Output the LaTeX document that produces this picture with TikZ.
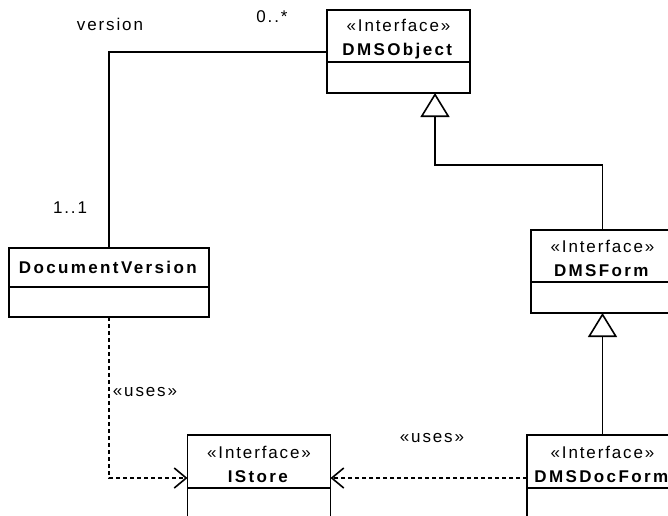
\documentclass[tikz,border=0pt]{standalone}
\usepackage{fontspec}
\setmainfont{Liberation Sans}[LetterSpace=11,BoldFeatures={LetterSpace=14}]
\usetikzlibrary{arrows.meta,positioning}
\newcommand{\stereo}{\rule{0pt}{18pt}«Interface»}
\tikzset{
  classhd/.style={draw, line width=1.8pt, align=center, inner sep=0pt, outer sep=0pt, minimum width=143pt, minimum height=52pt, font=\fontsize{17}{24}\selectfont},
  classbd/.style={draw, line width=1.8pt, inner sep=0pt, outer sep=0pt, minimum width=143pt, minimum height=31pt},
  lbl/.style={inner sep=0pt, font=\fontsize{17}{20}\selectfont},
  assoc/.style={line width=1.6pt},
  inherit/.style={line width=1.6pt, -{Triangle[open, length=24pt, width=29pt, line width=1.6pt]}},
  uses/.style={line width=1.6pt, dash pattern=on 4pt off 3pt, -{Straight Barb[length=12pt, width=20pt, line width=1.6pt]}}
}

\begin{document}
\begin{tikzpicture}[x=1pt, y=-1pt]
	%%%%% START %%%%%
	\clip (0,0) rectangle (668,515);
	\fill[white] (0,0) rectangle (668,515);

	% classes
	\node[classhd] (objhd) at (398.5,36) {\stereo\\ \textbf{DMSObject}};
	\node[classbd, below=0pt of objhd] (objbd) {};

	\node[classhd, minimum width=200pt, minimum height=39pt] (verhd) at (109,267.5) {\textbf{DocumentVersion}};
	\node[classbd, minimum width=200pt, minimum height=30pt, below=0pt of verhd] (verbd) {};

	\node[classhd] (formhd) at (602.5,256) {\stereo\\ \textbf{DMSForm}};
	\node[classbd, below=0pt of formhd] (formbd) {};

	\node[classhd, minimum height=53pt] (storehd) at (259,461.5) {\stereo\\ \textbf{IStore}};
	\node[classbd, minimum height=40pt, below=0pt of storehd] (storebd) {};

	\node[classhd, minimum width=151pt, minimum height=53pt] (dochd) at (602.5,461.5) {\stereo\\ \textbf{DMSDocForm}};
	\node[classbd, minimum width=151pt, minimum height=40pt, below=0pt of dochd] (docbd) {};

	% association
	\draw[assoc] ([yshift=-16pt]objhd.west) -| (verhd.north);
	\node[lbl] (rolever) at (110,24) {version};
	\node[lbl] (multobj) at (272,17) {0..*};
	\node[lbl] (multver) at (70,208) {1..1};

	% generalisations
	\draw[inherit] (formhd.north) |- ([xshift=36.5pt,yshift=-72pt]objbd.south) -- ([xshift=36.5pt]objbd.south);
	\draw[inherit] (formbd.south |- dochd.north) -- (formbd.south);

	% dependencies
	\draw[uses] (verbd.south) |- ([yshift=-16.5pt]storehd.west);
	\draw[uses] ([yshift=-16.5pt]dochd.west) -- ([yshift=-16.5pt]storehd.east);
	\node[lbl] (usesver) at (145,392) {«uses»};
	\node[lbl] (usesdoc) at (432,438) {«uses»};
	%%%%% END %%%%%
\end{tikzpicture}
\end{document}
